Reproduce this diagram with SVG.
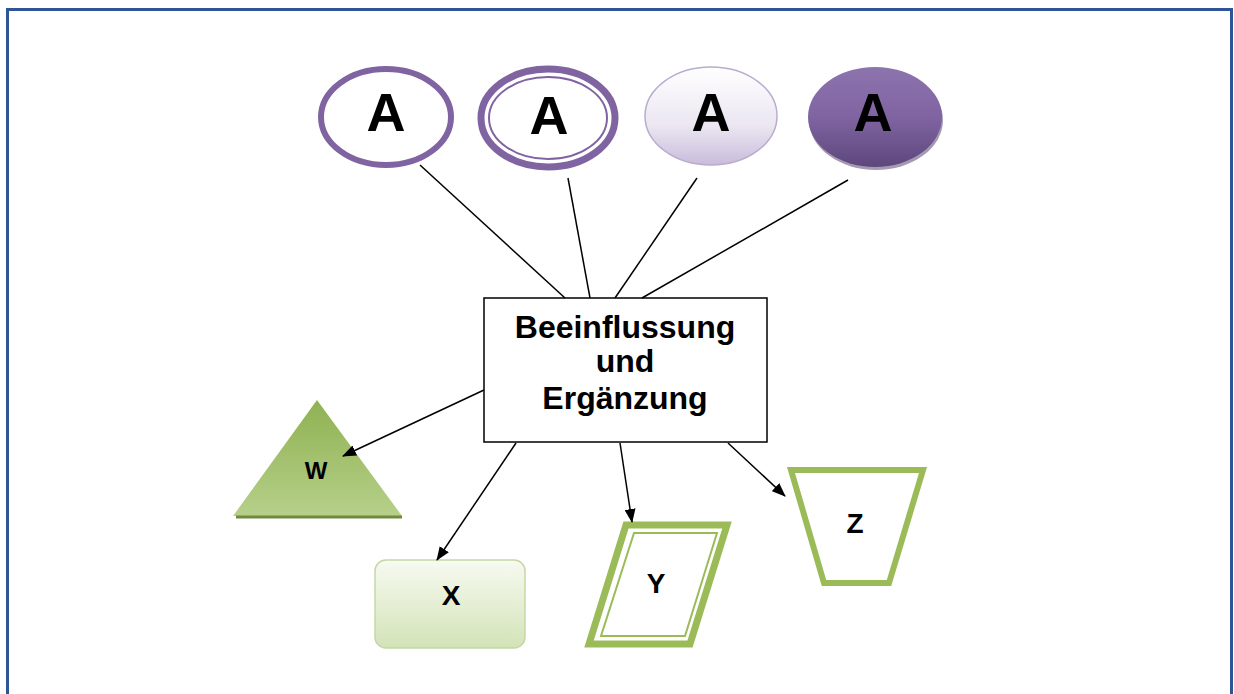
<svg xmlns="http://www.w3.org/2000/svg" width="1234" height="694" viewBox="0 0 1234 694">
<style>
.lbl{font-family:"Liberation Sans",Arial,sans-serif;font-weight:bold;fill:#000;text-anchor:middle}
.big{font-size:54px}
.sm{font-size:28px}
.box{font-size:32px}
.con{stroke:#000;stroke-width:1.5;fill:none}
.arr{marker-end:url(#ah)}
.pur{stroke:#8064a2;fill:#fff}
.grn{stroke:#9bbb59;fill:#fff}
</style>
<defs>
<marker id="ah" viewBox="0 0 14 11" refX="13" refY="5.5" markerWidth="14" markerHeight="11" markerUnits="userSpaceOnUse" orient="auto">
<path d="M0,0 L14,5.5 L0,11 Z" fill="#000"/>
</marker>
<linearGradient id="g3" x1="0" y1="0" x2="0" y2="1">
<stop offset="0" stop-color="#ffffff"/>
<stop offset="0.6" stop-color="#ebe6f1"/>
<stop offset="1" stop-color="#c9bcdb"/>
</linearGradient>
<linearGradient id="g4" x1="0" y1="0" x2="0" y2="1">
<stop offset="0" stop-color="#8c74ad"/>
<stop offset="0.5" stop-color="#8064a2"/>
<stop offset="1" stop-color="#5d477c"/>
</linearGradient>
<linearGradient id="gw" x1="0" y1="0" x2="0" y2="1">
<stop offset="0" stop-color="#8fb152"/>
<stop offset="1" stop-color="#b6d08a"/>
</linearGradient>
<linearGradient id="gx" x1="0" y1="0" x2="0" y2="1">
<stop offset="0" stop-color="#f7faf1"/>
<stop offset="1" stop-color="#d3e3b8"/>
</linearGradient>
</defs>
<rect x="0" y="0" width="1234" height="694" fill="#fff"/>
<path d="M7.5,694 V9.5 H1231.5 V694" fill="none" stroke="#2f5597" stroke-width="3"/>

<g id="circle1">
<ellipse class="pur" cx="386" cy="117" rx="65" ry="48" stroke-width="6"/>
<text class="lbl big" x="386" y="131">A</text>
</g>
<g id="circle2">
<ellipse class="pur" cx="548" cy="118" rx="67" ry="49" stroke-width="7"/>
<ellipse cx="548" cy="118" rx="59" ry="41" fill="none" stroke="#8064a2" stroke-width="2"/>
<text class="lbl big" x="549" y="134">A</text>
</g>
<g id="circle3">
<ellipse cx="711" cy="116" rx="66" ry="49" fill="url(#g3)" stroke="#b9acd0" stroke-width="1.5"/>
<text class="lbl big" x="711" y="131">A</text>
</g>
<g id="circle4">
<ellipse cx="876" cy="120" rx="67" ry="50" fill="#4a3866" opacity="0.5"/>
<ellipse cx="875" cy="117" rx="67" ry="50" fill="url(#g4)"/>
<text class="lbl big" x="873" y="131">A</text>
</g>

<g id="box">
<rect x="484" y="298" width="283" height="144" fill="#fff" stroke="#000" stroke-width="1.5"/>
<text class="lbl box" x="625" y="338">Beeinflussung</text>
<text class="lbl box" x="625" y="372">und</text>
<text class="lbl box" x="625" y="409">Ergänzung</text>
</g>

<g id="W">
<polygon points="317,400 402,516 233,516" fill="url(#gw)"/>
<line x1="236" y1="517" x2="402" y2="517" stroke="#6f8a3c" stroke-width="3"/>
<text class="lbl" font-size="24" x="316" y="479">W</text>
</g>
<g id="X">
<rect x="375" y="560" width="150" height="88" rx="11" fill="url(#gx)" stroke="#c5d7a6" stroke-width="1.5"/>
<text class="lbl sm" x="451" y="605">X</text>
</g>
<g id="Y">
<polygon class="grn" points="626,525 727,525 690,644 589,644" stroke-width="7"/>
<polygon points="634,533 717,533 685,636 601,636" fill="none" stroke="#9bbb59" stroke-width="2"/>
<text class="lbl sm" x="656" y="593">Y</text>
</g>
<g id="Z">
<polygon class="grn" points="791,470 923,470 889,583 824,583" stroke-width="6"/>
<text class="lbl sm" x="855" y="533">Z</text>
</g>

<g id="connectors">
<line class="con" x1="420" y1="165" x2="565" y2="298"/>
<line class="con" x1="568" y1="178" x2="590" y2="298"/>
<line class="con" x1="697" y1="178" x2="615" y2="298"/>
<line class="con" x1="848" y1="180" x2="642" y2="298"/>
<line class="con arr" x1="484" y1="390" x2="343" y2="456"/>
<line class="con arr" x1="516" y1="443" x2="437" y2="560"/>
<line class="con arr" x1="620" y1="443" x2="632" y2="522"/>
<line class="con arr" x1="728" y1="443" x2="785" y2="496"/>
</g>
</svg>
